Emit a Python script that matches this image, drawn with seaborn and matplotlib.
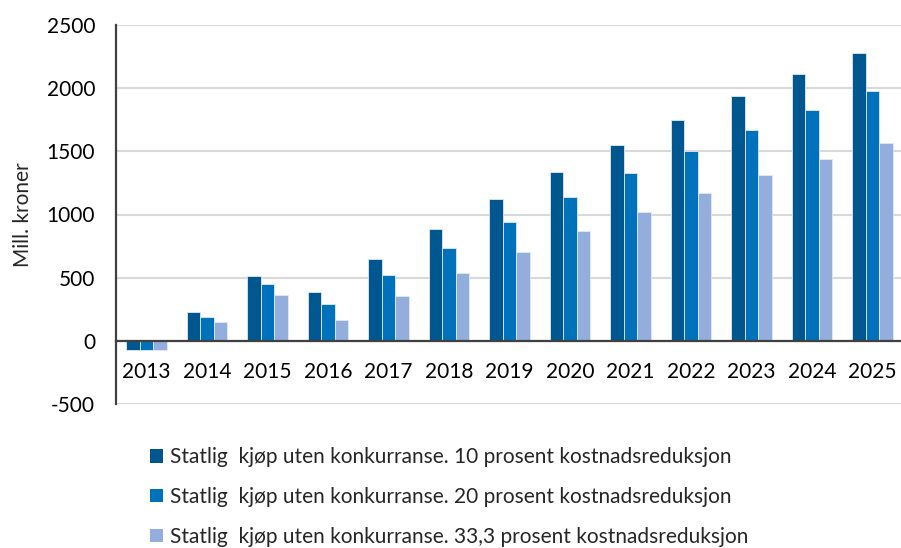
import pandas as pd
import numpy as np
from matplotlib import pyplot as plt
from matplotlib.patches import Patch
import seaborn as sns

years = ["2013", "2014", "2015", "2016", "2017", "2018", "2019", "2020",
         "2021", "2022", "2023", "2024", "2025"]
red_10 = [-75, 227, 514, 385, 645, 888, 1120, 1340, 1551, 1748, 1936, 2112, 2281]
red_20 = [-75, 192, 448, 290, 519, 738, 940, 1137, 1327, 1500, 1669, 1825, 1975]
red_33 = [-75, 148, 361, 163, 354, 534, 705, 868, 1023, 1171, 1311, 1443, 1566]
series = ["Statlig  kjøp uten konkurranse. 10 prosent kostnadsreduksjon",
          "Statlig  kjøp uten konkurranse. 20 prosent kostnadsreduksjon",
          "Statlig  kjøp uten konkurranse. 33,3 prosent kostnadsreduksjon"]
colors = ["#00578F", "#0072BC", "#93AEDC"]

df = pd.DataFrame({
    "year": years * 3,
    "value": red_10 + red_20 + red_33,
    "series": [series[0]] * 13 + [series[1]] * 13 + [series[2]] * 13,
})

sns.set_style("white")
plt.rcParams["font.family"] = ["Lato", "DejaVu Sans"]
plt.rcParams["axes.unicode_minus"] = False

fig = plt.figure(figsize=(9.01, 5.48), dpi=100)
ax = fig.add_axes([116 / 901, (548 - 404) / 548, 787 / 901, 379 / 548])

sns.barplot(data=df, x="year", y="value", hue="series", hue_order=series,
            palette=colors, width=0.67, ax=ax, legend=False,
            edgecolor="#dfe8f5", linewidth=0.6, saturation=1)

ax.set_ylim(-500, 2500)
ax.set_yticks(range(-500, 2501, 500))
ax.set_xlim(-0.5, 12.5)
ax.yaxis.grid(True, color="#d9d9d9", linewidth=1.5)
ax.set_axisbelow(True)
for s in ["top", "right"]:
    ax.spines[s].set_visible(False)
ax.spines["bottom"].set_position(("data", 0))
ax.spines["bottom"].set_color("#404040")
ax.spines["bottom"].set_linewidth(1.6)
ax.spines["left"].set_color("#404040")
ax.spines["left"].set_linewidth(1.6)
ax.tick_params(axis="both", length=0, labelsize=15, colors="black")
ax.tick_params(axis="x", pad=15)
ax.tick_params(axis="y", pad=15)
ax.set_xlabel("")
ax.set_ylabel("Mill. kroner", fontsize=15, labelpad=10)

# legend sits under the plot, last row is clipped by the figure edge like the original
handles = [Patch(facecolor=c, edgecolor="none") for c in colors]
fig.legend(handles, series, loc="upper left", bbox_to_anchor=(140 / 901, 1 - 437 / 548),
           frameon=False, fontsize=15, handlelength=0.6, handleheight=0.6,
           handletextpad=0.35, labelspacing=0.95, borderpad=0)

fig.savefig("out.png", dpi=100)
